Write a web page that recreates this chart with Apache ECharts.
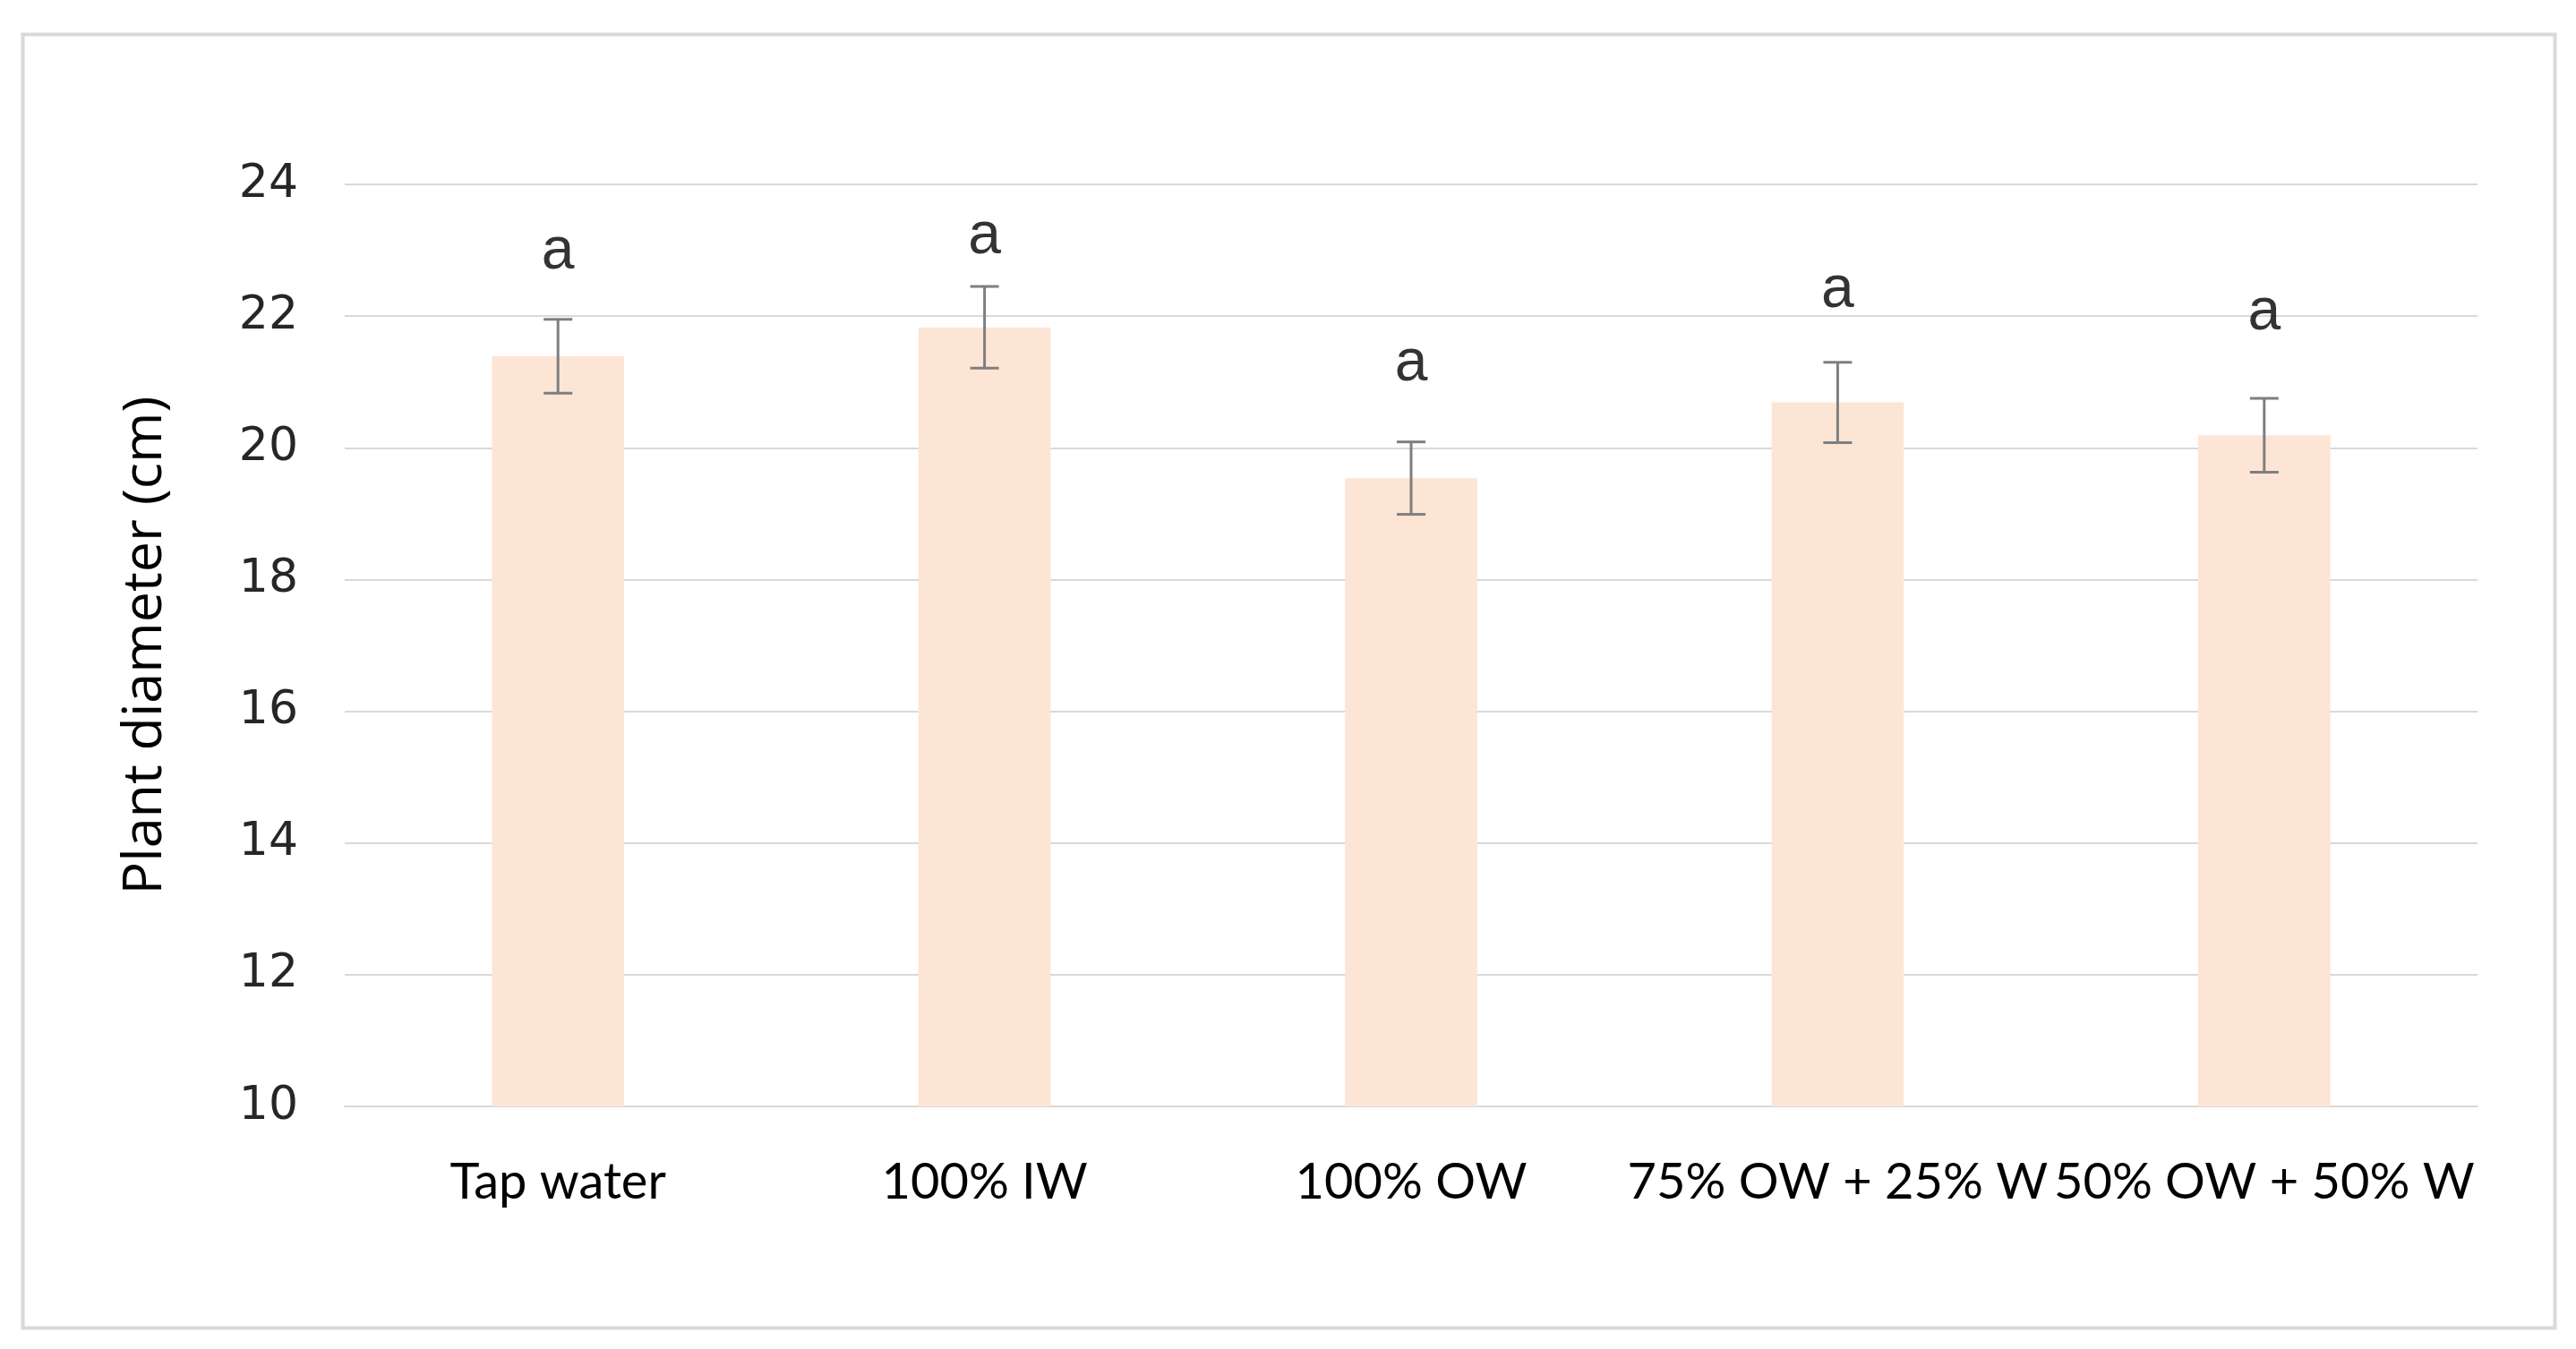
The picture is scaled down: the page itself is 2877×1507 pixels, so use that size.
<!DOCTYPE html>
<html><head><meta charset="utf-8">
<script src="https://cdn.jsdelivr.net/npm/echarts@6/dist/echarts.min.js"></script>
<style>html,body{margin:0;padding:0;background:#fff}#c{width:2877px;height:1507px}</style>
</head><body><div id="c"></div>
<script>
const categories = ['Tap water', '100% IW', '100% OW', '75% OW + 25% W', '50% OW + 50% W'];
const means = [21.39, 21.83, 19.54, 20.69, 20.19];
const errors = [0.56, 0.62, 0.55, 0.61, 0.56];
const letters = ['a', 'a', 'a', 'a', 'a'];
const letterPos = [22.97, 23.2, 21.27, 22.38, 22.04];
const yTicks = [10, 12, 14, 16, 18, 20, 22, 24];

const chart = echarts.init(document.getElementById('c'));
chart.setOption({
  backgroundColor: '#fff',
  animation: false,
  graphic: [{
    type: 'rect', left: 23, top: 36, shape: { width: 2828, height: 1445 },
    style: { fill: 'none', stroke: '#d9d9d9', lineWidth: 4 }, silent: true, z: 0
  }],
  grid: { left: 385, right: 110, top: 206, bottom: 271, containLabel: false },
  xAxis: {
    type: 'category', data: categories,
    axisLine: { show: true, lineStyle: { color: '#d9d9d9', width: 2 } },
    axisTick: { show: false },
    axisLabel: { color: '#000', fontFamily: 'Lato', fontSize: 56, margin: 57, interval: 0 }
  },
  yAxis: {
    type: 'value', min: yTicks[0], max: yTicks[yTicks.length - 1], interval: 2,
    name: 'Plant diameter (cm)', nameLocation: 'middle', nameGap: 192,
    nameTextStyle: { color: '#000', fontFamily: 'Open Sans', fontSize: 61 },
    axisLine: { show: false }, axisTick: { show: false },
    splitLine: { lineStyle: { color: '#d9d9d9', width: 2 } },
    axisLabel: { color: '#262626', fontFamily: 'DejaVu Sans', fontSize: 52, margin: 52 }
  },
  series: [
    {
      type: 'bar', data: means, barWidth: '31%',
      itemStyle: { color: '#fde5d6' }, z: 2
    },
    {
      type: 'custom', z: 3,
      data: means.map((m, i) => [i, m - errors[i], m + errors[i]]),
      renderItem: function (params, api) {
        const lo = api.coord([api.value(0), api.value(1)]);
        const hi = api.coord([api.value(0), api.value(2)]);
        const hw = 16;
        const st = { stroke: '#7f7f7f', lineWidth: 3 };
        return {
          type: 'group', children: [
            { type: 'line', shape: { x1: hi[0], y1: hi[1], x2: lo[0], y2: lo[1] }, style: st },
            { type: 'line', shape: { x1: hi[0] - hw, y1: hi[1], x2: hi[0] + hw, y2: hi[1] }, style: st },
            { type: 'line', shape: { x1: lo[0] - hw, y1: lo[1], x2: lo[0] + hw, y2: lo[1] }, style: st }
          ]
        };
      }
    },
    {
      type: 'scatter', symbolSize: 0, z: 4,
      data: letterPos.map((v, i) => [i, v, letters[i]]),
      label: {
        show: true, position: 'inside', formatter: p => p.data[2],
        color: '#000', fontFamily: 'Liberation Sans', fontSize: 66
      }
    }
  ]
});
</script></body></html>
